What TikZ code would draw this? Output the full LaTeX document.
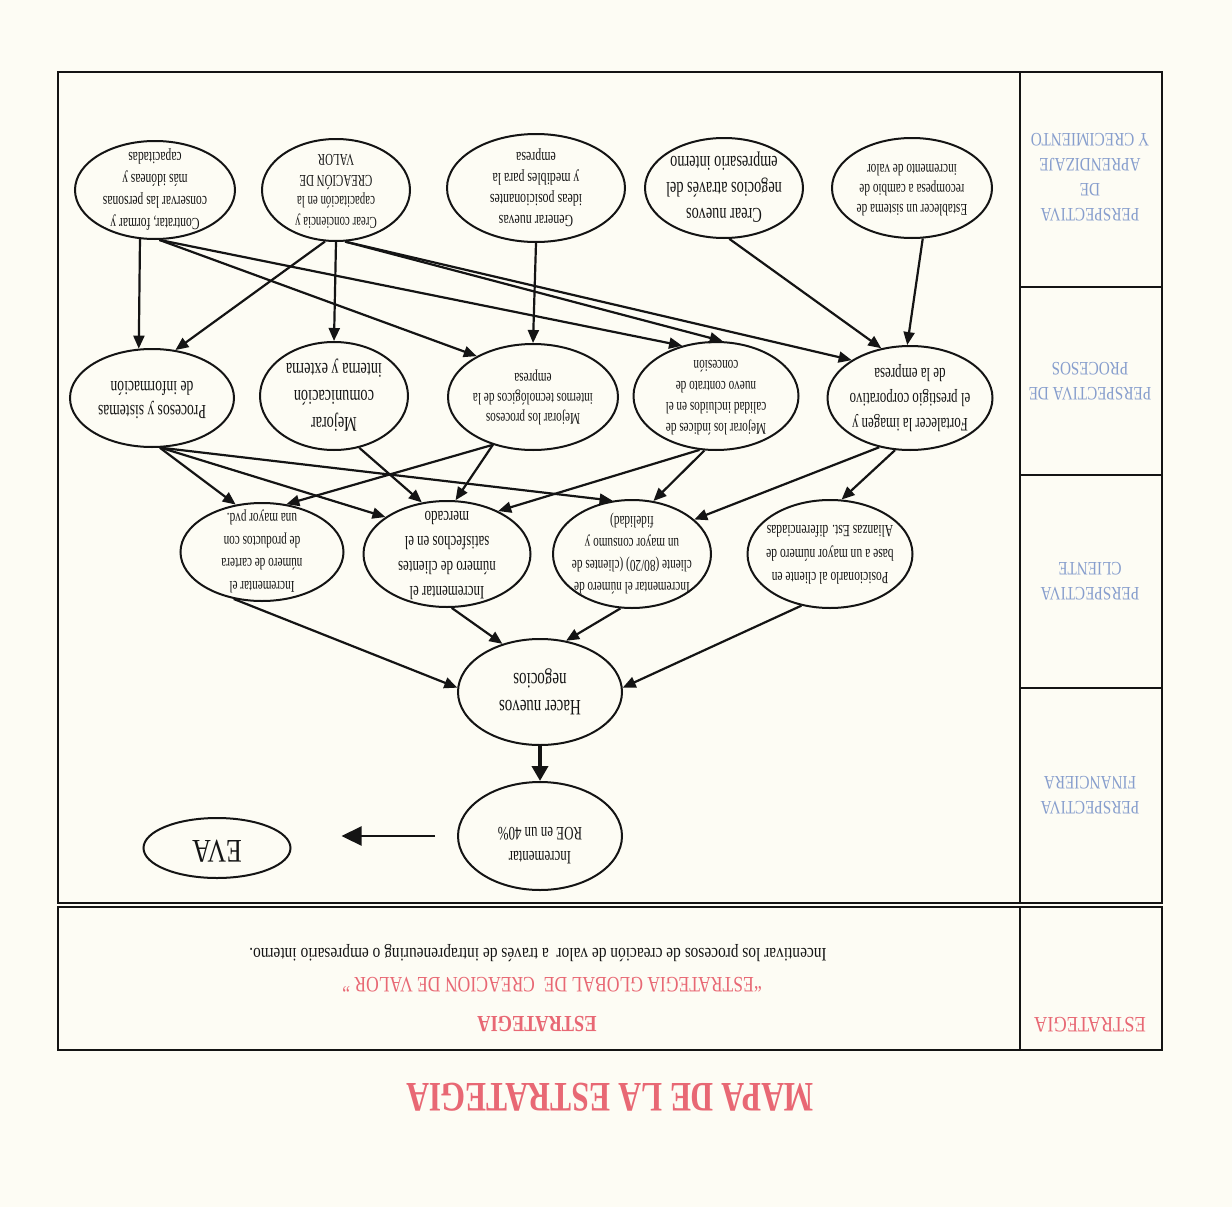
\documentclass[tikz,border=0pt]{standalone}
\usepackage{fontspec}
\setmainfont{Liberation Serif}
\usepackage{graphicx}
\usetikzlibrary{shapes.geometric,arrows.meta,calc}
\definecolor{bg}{RGB}{253,252,244}
\definecolor{ink}{RGB}{20,20,20}
\definecolor{titlered}{RGB}{232,104,116}
\definecolor{lblue}{RGB}{135,158,205}
\newcommand{\et}[4][0.68]{\scalebox{#1}[1]{\fontsize{#2}{#3}\selectfont\begin{tabular}{@{}c@{}}#4\end{tabular}}}
\begin{document}
\begin{tikzpicture}[x=1pt,y=-1pt,
  ell/.style={ellipse,draw=ink,line width=2pt,inner sep=0pt},
  txt/.style={rotate=180,inner sep=0pt,text=ink},
  con/.style={draw=ink,line width=2.2pt,-{Triangle[length=13pt,width=11pt]}},
  frm/.style={draw=ink,line width=1.7pt},
  lbl/.style={rotate=180,inner sep=0pt,text=lblue}]

\fill[bg] (0,0) rectangle (1232,1207);
\useasboundingbox (0,0) rectangle (1232,1207);

% frames
\draw[frm] (58,72) rectangle (1162,903);
\draw[frm] (1020,72) -- (1020,903);
\draw[frm] (1020,287) -- (1162,287);
\draw[frm] (1020,475) -- (1162,475);
\draw[frm] (1020,688) -- (1162,688);
\draw[frm] (58,907) rectangle (1162,1050);
\draw[frm] (1020,907) -- (1020,1050);

% perspective labels
\node[lbl] (lab1) at (1090,176) {\et[0.8]{19}{25}{PERSPECTIVA\\DE\\APRENDIZAJE\\Y CRECIMIENTO}};
\node[lbl] (lab2) at (1090,380) {\et[0.8]{19}{25}{PERSPECTIVA DE\\PROCESOS}};
\node[lbl] (lab3) at (1090,580) {\et[0.8]{19}{25}{PERSPECTIVA\\CLIENTE}};
\node[lbl] (lab4) at (1090,794) {\et[0.8]{19}{25}{PERSPECTIVA\\FINANCIERA}};

% strategy row
\node[txt,text=titlered] (estlab) at (1090,1023) {\et[0.84]{22}{26}{ESTRATEGIA}};
\node[txt,text=titlered] (est) at (537,1022) {\et[0.8]{23}{26}{\bfseries ESTRATEGIA}};
\node[txt,text=titlered] (glob) at (552,983) {\et[0.8]{22}{26}{“ESTRATEGIA GLOBAL DE\ \ CREACION DE VALOR ”}};
\node[txt] (inc) at (538,953) {\et[0.81]{19}{24}{Incentivar los procesos de creación de valor\ \ a través de intrapreneuring o empresario interno.}};

% title
\node[txt,text=titlered] (title) at (610,1093) {\et[0.75]{42}{46}{\bfseries MAPA DE LA ESTRATEGIA}};

% learning row
\node[ell,minimum width=160,minimum height=100] (L1) at (912,188) {};
\node[txt] (L1t) at (L1) {\et{16.5}{20}{Establecer un sistema de\\recompesa a cambio de\\incremento de valor}};
\node[ell,minimum width=158,minimum height=100] (L2) at (724,188) {};
\node[txt] (L2t) at (L2) {\et{21}{26}{Crear nuevos\\negocios através del\\empresario interno}};
\node[ell,minimum width=178,minimum height=108] (L3) at (536,188) {};
\node[txt] (L3t) at (L3) {\et[0.7]{17}{21}{Generar nuevas\\ideas posicionantes\\y medibles para la\\empresa}};
\node[ell,minimum width=148,minimum height=102] (L4) at (336,190) {};
\node[txt] (L4t) at (L4) {\et[0.66]{16.5}{21}{Crear conciencia y\\capacitación en la\\CREACIÓN DE\\VALOR}};
\node[ell,minimum width=160,minimum height=98] (L5) at (155,190) {};
\node[txt] (L5t) at (L5) {\et{17}{22}{Contratar, formar y\\conservar las personas\\más idóneas y\\capacitadas}};

% process row
\node[ell,minimum width=165,minimum height=104] (P1) at (910,398) {};
\node[txt] (P1t) at (P1) {\et{19}{25}{Fortalecer la imagen y\\el prestigio corporativo\\de la empresa}};
\node[ell,minimum width=165,minimum height=108] (P2) at (716,396) {};
\node[txt] (P2t) at (P2) {\et{16.5}{21}{Mejorar los índices de\\calidad incluidos en el\\nuevo contrato de\\concesión}};
\node[ell,minimum width=170,minimum height=106] (P3) at (533,397) {};
\node[txt] (P3t) at (P3) {\et{16.5}{20}{Mejorar los procesos\\internos tecnológicos de la\\empresa}};
\node[ell,minimum width=148,minimum height=108] (P4) at (334,396) {};
\node[txt] (P4t) at (P4) {\et{21}{27}{Mejorar\\comunicación\\interna y externa}};
\node[ell,minimum width=164,minimum height=98] (P5) at (152,398) {};
\node[txt] (P5t) at (P5) {\et{20}{24}{Procesos y sistemas\\de información}};

% client row
\node[ell,minimum width=165,minimum height=108] (C1) at (830,554) {};
\node[txt] (C1t) at (C1) {\et{17}{23.5}{Posicionarlo al cliente en\\base a un mayor número de\\Alianzas Est. diferenciadas}};
\node[ell,minimum width=158,minimum height=108] (C2) at (632,554) {};
\node[txt] (C2t) at (C2) {\et{16.5}{22}{Incrementar el número de\\cliente (80/20) (clientes de\\un mayor consumo y\\fidelidad)}};
\node[ell,minimum width=167,minimum height=106] (C3) at (447,554) {};
\node[txt] (C3t) at (C3) {\et{19}{25}{Incrementar el\\número de clientes\\satisfechos en el\\mercado}};
\node[ell,minimum width=163,minimum height=98] (C4) at (262,552) {};
\node[txt] (C4t) at (C4) {\et{16.5}{22.5}{Incrementar el\\número de cartera\\de productos con\\una mayor pvd.}};

% financial
\node[ell,minimum width=164,minimum height=106] (F1) at (540,692) {};
\node[txt] (F1t) at (F1) {\et{22}{27}{Hacer nuevos\\negocios}};
\node[ell,minimum width=164,minimum height=108] (F2) at (540,836) {};
\node[txt] (F2t) at ($(F2)+(0,8)$) {\et{19}{24}{Incrementar\\ROE en un 40\%}};
\node[ell,minimum width=147,minimum height=60] (EVA) at (217,848) {};
\node[txt] (EVAt) at (EVA) {\et[0.78]{33}{36}{EVA}};

% learning -> processes
\draw[con] (L1.-78) -- (P1.93);
\draw[con] (L2.-84) -- (P1.120);
\draw[con] (L4.-80) -- (P1.147);
\draw[con] (L3.-90) -- (P3.90);
\draw[con] (L4.-80) -- (P2.83);
\draw[con] (L4.-90) -- (P4.90);
\draw[con] (L4.-102) -- (P5.64);
\draw[con] (L5.-107) -- (P5.105);
\draw[con] (L5.-85) -- (P3.144);
\draw[con] (L5.-85) -- (P2.124);

% processes -> clients
\draw[con] (P1.-106) -- (C1.78);
\draw[con] (P1.-122) -- (C2.29);
\draw[con] (P2.-102) -- (C2.68);
\draw[con] (P2.-107) -- (C3.40);
\draw[con] (P3.-130) -- (C3.81);
\draw[con] (P3.-130) -- (C4.63);
\draw[con] (P4.-64) -- (C3.116);
\draw[con] (P5.-81) -- (C4.119);
\draw[con] (P5.-80) -- (C3.149);
\draw[con] (P5.-80) -- (C2.110);

% clients -> financial
\draw[con] (C1.-119) -- (F1.3);
\draw[con] (C2.-102) -- (F1.63);
\draw[con] (C3.-85) -- (F1.128);
\draw[con] (C4.-121) -- (F1.177);

\draw[draw=ink,line width=4.5pt,-{Triangle[length=15pt,width=16pt]}] (F1.south) -- (F2.north);
\coordinate (roeA) at ($(F2.west)+(-22,0)$);
\coordinate (evaB) at ($(EVA.east)+(50,-12)$);
\draw[draw=ink,line width=2.2pt,-{Triangle[length=20pt,width=19pt]}] (roeA) -- (evaB);
\end{tikzpicture}
\end{document}
